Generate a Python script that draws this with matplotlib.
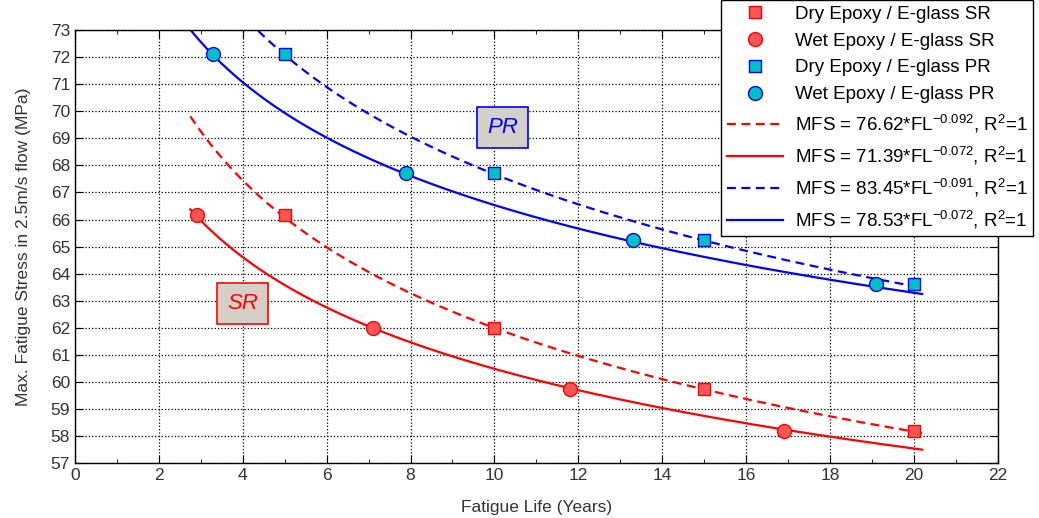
import numpy as np
import matplotlib
matplotlib.use('Agg')
import matplotlib.pyplot as plt

plt.rcParams['font.family'] = ['Liberation Sans', 'DejaVu Sans']
plt.rcParams['mathtext.fontset'] = 'custom'
plt.rcParams['mathtext.rm'] = 'Liberation Sans'
plt.rcParams['mathtext.default'] = 'regular'

# Data
dry_sr_x = [5, 10, 15, 20]
dry_sr_y = [66.15, 62.0, 59.75, 58.2]
wet_sr_x = [2.9, 7.1, 11.8, 16.9]
wet_sr_y = [66.15, 62.0, 59.75, 58.2]
dry_pr_x = [5, 10, 15, 20]
dry_pr_y = [72.1, 67.7, 65.25, 63.6]
wet_pr_x = [3.3, 7.9, 13.3, 19.1]
wet_pr_y = [72.1, 67.7, 65.25, 63.6]

# power-law fits shown in the legend: MFS = a * FL^b
fit_a = [76.62, 71.39, 83.45, 78.53]
fit_b = [-0.092, -0.072, -0.091, -0.072]
fit_colors = ['red', 'red', 'blue', 'blue']
fit_styles = ['--', '-', '--', '-']
fit_range = (2.75, 20.2)

fig = plt.figure(figsize=(10.39, 5.18), dpi=100)
ax = fig.add_axes([0.0722, 0.106, 0.888, 0.836])

sq_red = dict(marker='s', ms=8.5, mfc='#ff5555', mec='red', mew=1, ls='none')
ci_red = dict(marker='o', ms=10, mfc='#ff5555', mec='red', mew=1, ls='none')
sq_cy = dict(marker='s', ms=8.5, mfc='#00c0c0', mec='blue', mew=1, ls='none')
ci_cy = dict(marker='o', ms=10, mfc='#00c0c0', mec='blue', mew=1, ls='none')

ax.plot(dry_sr_x, dry_sr_y, label='Dry Epoxy / E-glass SR', zorder=3, **sq_red)
ax.plot(wet_sr_x, wet_sr_y, label='Wet Epoxy / E-glass SR', zorder=3, **ci_red)
ax.plot(dry_pr_x, dry_pr_y, label='Dry Epoxy / E-glass PR', zorder=3, **sq_cy)
ax.plot(wet_pr_x, wet_pr_y, label='Wet Epoxy / E-glass PR', zorder=3, **ci_cy)

fl = np.linspace(fit_range[0], fit_range[1], 300)
for a, b, c, s in zip(fit_a, fit_b, fit_colors, fit_styles):
    lbl = 'MFS = %.2f*FL$^{%.3f}$, R$^2$=1' % (a, b)
    line, = ax.plot(fl, a * fl ** b, color=c, ls=s, lw=1.6, label=lbl, zorder=2)
    if s == '--':
        line.set_dashes((4, 2.5))

ax.set_xlim(0, 22)
ax.set_ylim(57, 73)
ax.set_xticks(np.arange(0, 23, 2))
ax.set_xticks(np.arange(1, 22, 2), minor=True)
ax.set_yticks(np.arange(57, 74, 1))
ax.tick_params(direction='in', top=True, right=True, labelsize=12.5, length=6,
               labelcolor='#333333')
ax.tick_params(which='minor', direction='in', top=True, length=3)
ax.grid(True, ls=':', color='black', lw=0.9)
for sp in ax.spines.values():
    sp.set_linewidth(1.0)

ax.set_xlabel('Fatigue Life (Years)', fontsize=12.5, labelpad=12, color='#333333')
ax.set_ylabel('Max. Fatigue Stress in 2.5m/s flow (MPa)', fontsize=12.5, labelpad=14,
              color='#333333')

ax.text(10.2, 69.4, 'PR', color='blue', fontsize=16, style='italic', ha='center', va='center',
        bbox=dict(boxstyle='square,pad=0.45', fc='#d4d0c8', ec='blue', lw=1.2))
ax.text(4.0, 62.9, 'SR', color='red', fontsize=16, style='italic', ha='center', va='center',
        bbox=dict(boxstyle='square,pad=0.45', fc='#d4d0c8', ec='red', lw=1.2))

leg = fig.legend(loc='upper right', bbox_to_anchor=(0.994, 1.0), fontsize=13.5,
                 fancybox=False, edgecolor='black', framealpha=1, handlelength=3,
                 labelspacing=0.52, borderpad=0.3, handletextpad=0.6, borderaxespad=0)
leg.get_frame().set_linewidth(1.0)

fig.savefig('out.png', dpi=100)
